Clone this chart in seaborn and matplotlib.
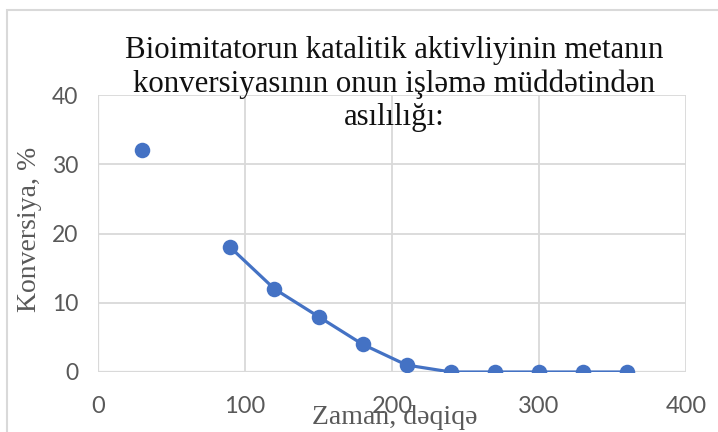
import numpy as np
import pandas as pd
import matplotlib
matplotlib.use("Agg")
import matplotlib.pyplot as plt
import seaborn as sns
from matplotlib.patches import Rectangle

# data
time_min = [30, 60, 90, 120, 150, 180, 210, 240, 270, 300, 330, 360]
conversion = [32, np.nan, 18, 12, 8, 4, 1, 0, 0, 0, 0, 0]
x_ticks = [0, 100, 200, 300, 400]
y_ticks = [0, 10, 20, 30, 40]
title = "Bioimitatorun katalitik aktivliyinin metanın\nkonversiyasının onun işləmə müddətindən\nasılılığı:"
xlabel = "Zaman, dəqiqə"
ylabel = "Konversiya, %"

df = pd.DataFrame({"t": time_min, "c": conversion})
df_line = df.dropna()
df_line = df_line[df_line["t"] >= 90]

sns.set_theme(style="white")
plt.rcParams["font.family"] = ["Liberation Serif", "DejaVu Serif"]

blue = "#4472C4"
grid_c = "#d9d9d9"
tick_c = "#595959"

fig = plt.figure(figsize=(7.18, 4.32), dpi=100)
ax = fig.add_axes([98/718, 1-372/432, (686-98)/718, (372-95)/432])

sns.lineplot(data=df_line, x="t", y="c", ax=ax, color=blue, linewidth=2.3, zorder=3)
sns.scatterplot(data=df.dropna(), x="t", y="c", ax=ax, color=blue, s=125,
                edgecolor=blue, linewidth=0, zorder=4)

ax.set_xlim(0, 400)
ax.set_ylim(0, 40)
ax.set_xticks(x_ticks)
ax.set_yticks(y_ticks)
ax.grid(True, color=grid_c, linewidth=1.3)
for s in ax.spines.values():
    s.set_visible(False)
ax.axhline(0, color=grid_c, linewidth=1.6, zorder=1)
ax.axvline(0, color=grid_c, linewidth=1.6, zorder=1)
ax.set_xlabel("")
ax.set_ylabel("")
ax.tick_params(axis="y", length=0, colors=tick_c, pad=14, labelsize=16.5,
               labelfontfamily="Lato")
ax.tick_params(axis="x", length=0, colors=tick_c, pad=17, labelsize=17,
               labelfontfamily="Lato")

fig.text(30/718, 1-229/432, ylabel, rotation=90, ha="center", va="center",
         fontsize=20, color=tick_c)
fig.text(395/718, 1-418/432, xlabel, ha="center", va="center",
         fontsize=20, color=tick_c)
fig.text(394/718, 1-84/432, title, ha="center", va="center",
         fontsize=22.2, color="#111111", linespacing=1.2)

fig.patches.append(Rectangle((7/718, -0.1), 1.2, 1-10/432+0.1, transform=fig.transFigure,
                             fill=False, edgecolor=grid_c, linewidth=1.5))

fig.savefig("out.png", dpi=100)
